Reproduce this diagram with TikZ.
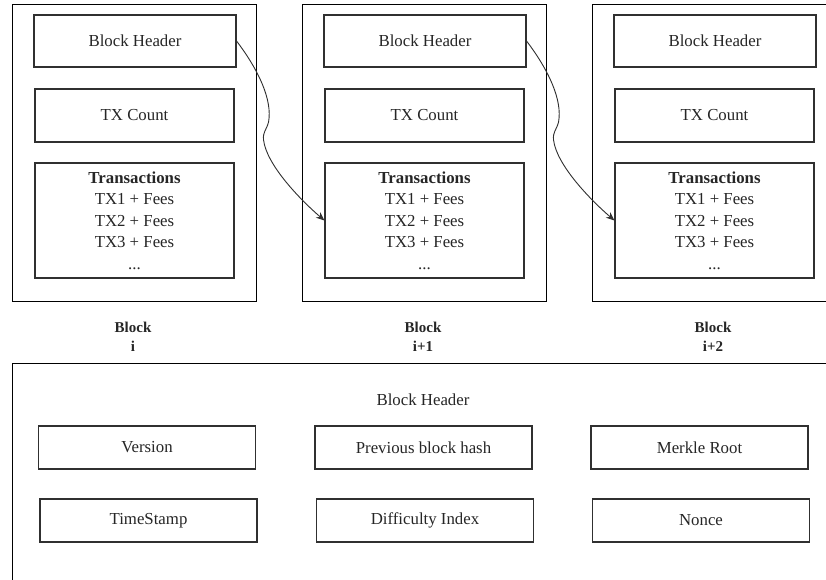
\documentclass[tikz,border=0pt]{standalone}
\usepackage{fontspec}
\setmainfont{Liberation Serif}
\usetikzlibrary{arrows.meta,calc}
\definecolor{ink}{HTML}{262626}
\definecolor{edge}{HTML}{303030}
\begin{document}
\begin{tikzpicture}[x=1pt,y=-1pt,
  every node/.style={text=ink,font=\fontsize{16.8}{21.5}\selectfont},
  frame/.style={draw=black,line width=1pt},
  cell/.style={draw=edge,line width=1.1pt,inner sep=0pt,align=center},
  caption/.style={align=center,font=\fontsize{15}{19}\selectfont\bfseries},
  link/.style={draw=edge,line width=0.9pt,-{Stealth[length=8.5pt,width=7pt]}}]
\useasboundingbox (0,0) rectangle (826,580);
\clip (0,0) rectangle (826,580);
\fill[white] (0,0) rectangle (826,580);

% three blocks of the chain
\foreach \o/\n/\t in {0/1/i, 290/2/i+1, 580/3/i+2}{
  \draw[frame] (12.5+\o,5) rectangle (256+\o,301);
  \node[cell,minimum width=202pt,minimum height=52pt] (hdr\n) at (135+\o,41) {Block Header};
  \node[cell,minimum width=199pt,minimum height=53pt] (cnt\n) at (134.5+\o,115.5) {TX Count};
  \node[cell,minimum width=199pt,minimum height=115pt] (tx\n) at (134.5+\o,220.5)
    {\textbf{Transactions}\\TX1 + Fees\\TX2 + Fees\\TX3 + Fees\\...};
  \node[caption] (lbl\n) at (133+\o,337) {Block\\\t};
}

% each header points at the transactions of the next block
\foreach \a/\b in {1/2, 2/3}{
  \draw[link] (hdr\a.east)
    .. controls ($(hdr\a.east)+(22,29)$) and ($(hdr\a.east)+(36,59)$) .. ($(hdr\a.east)+(32,81)$)
    .. controls ($(hdr\a.east)+(30,89)$) and ($(hdr\a.east)+(26,91)$) .. ($(hdr\a.east)+(27,99)$)
    .. controls ($(hdr\a.east)+(30,124)$) and ($(hdr\a.east)+(64,159)$) .. (tx\b.west);
}

% header field breakdown
\draw[frame] (12.5,363) rectangle (840,600);
\node (title) at (423,400) {Block Header};
\tikzset{field/.style={cell,minimum width=217pt,minimum height=43pt}}
\node[field] (version) at (147,447.5) {Version};
\node[field] (prev)    at (423.5,447.5) {Previous block hash};
\node[field] (merkle)  at (699.5,447.5) {Merkle Root};
\node[field] (time)    at (148.5,520.5) {TimeStamp};
\node[field] (diff)    at (425,520.5) {Difficulty Index};
\node[field] (nonce)   at (701,520.5) {Nonce};
\end{tikzpicture}
\end{document}
